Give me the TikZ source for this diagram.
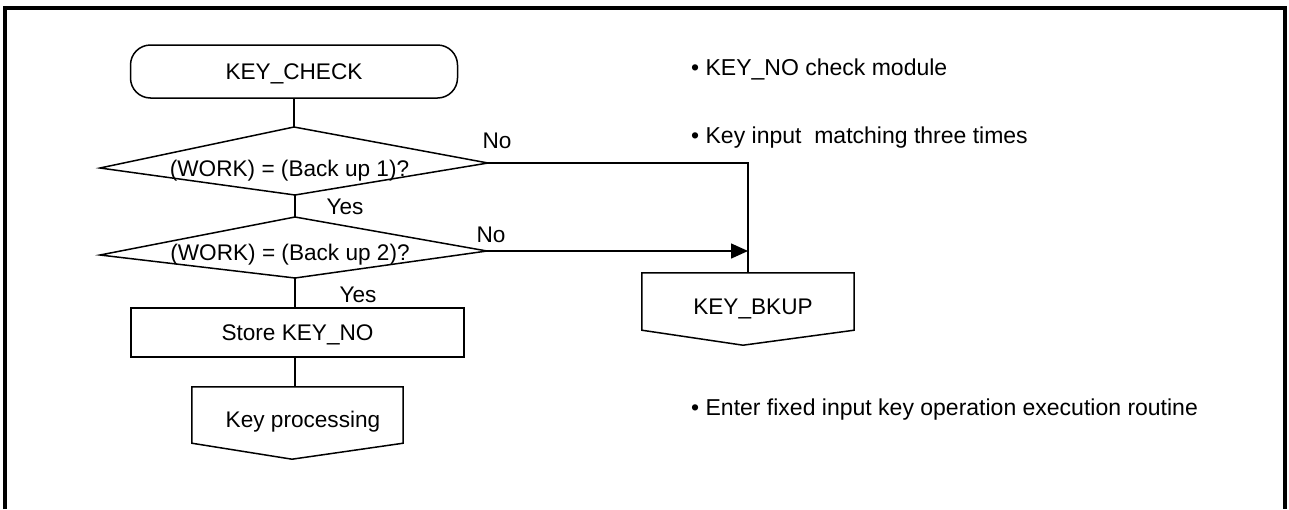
\documentclass[tikz,border=0pt]{standalone}
\usepackage{fontspec}
\setmainfont{Liberation Sans}
\usetikzlibrary{arrows.meta,calc}
\begin{document}
\begin{tikzpicture}[x=1pt,y=-1pt,
  every node/.style={font=\fontsize{22.6}{26}\selectfont, inner sep=0pt,
                     text height=16pt, text depth=0pt},
  ln/.style={line width=1.5pt, line join=miter},
  frame/.style={line width=3.2pt, line join=miter},
  term/.style={draw, ln, rounded corners=20pt, minimum width=327pt, minimum height=53pt},
  proc/.style={draw, ln, minimum width=333pt, minimum height=49pt},
  note/.style={anchor=base west, font=\fontsize{23}{27}\selectfont},
  tip/.style={-{Triangle[length=17pt,width=15pt]}}
]
\useasboundingbox (0,0) rectangle (1289,509);

% page frame, open at the bottom
\draw[frame] (5,509) -- (5,8) -- (1285,8) -- (1285,509);

% start terminal
\node[term] (st) at (294,71.5) {KEY\_CHECK};

% first decision
\coordinate (d1n) at (294,127);
\coordinate (d1e) at (488,163);
\coordinate (d1s) at (295,195);
\coordinate (d1w) at (100,168);
\draw[ln] (d1n) -- (d1e) -- (d1s) -- (d1w) -- cycle;
\node (q1) at (289.5,168) {(WORK) = (Back up 1)?};

% second decision
\coordinate (d2n) at (295,217);
\coordinate (d2e) at (487,251);
\coordinate (d2s) at (295,278);
\coordinate (d2w) at (100,255);
\draw[ln] (d2n) -- (d2e) -- (d2s) -- (d2w) -- cycle;
\node (q2) at (290,252) {(WORK) = (Back up 2)?};

% store step
\node[proc] (sk) at (297.5,332.5) {Store KEY\_NO};

% off-page connectors
\node[minimum width=211pt, minimum height=56pt,
      label={[xshift=5.5pt,yshift=-4.5pt]center:Key processing}] (kp) at (297.5,415) {};
\draw[ln] (kp.north west) -- (kp.north east) -- (kp.south east)
          -- ($(kp.south)+(-5.5,16)$) -- (kp.south west) -- cycle;

\node[minimum width=212pt, minimum height=57pt,
      label={[xshift=5pt,yshift=-5pt]center:KEY\_BKUP}] (bk) at (748,301.5) {};
\draw[ln] (bk.north west) -- (bk.north east) -- (bk.south east)
          -- ($(bk.south)+(-5,15)$) -- (bk.south west) -- cycle;

% flow lines
\draw[ln] (st.south) -- (d1n);
\draw[ln] (d1s) -- (d2n);
\draw[ln] (d2s) -- (d2s |- sk.north);
\draw[ln] (d2s |- sk.south) -- (d2s |- kp.north);
\draw[ln] (d1e) -| (bk.north);
\draw[ln, tip] (d2e) -- (d2e -| bk.north);

% branch labels
\node (y1) at (345,206) {Yes};
\node (y2) at (358,294.5) {Yes};
\node (n1) at (497,140) {No};
\node (n2) at (491,234) {No};

% notes
\node[note] (m1) at (691,75) {• KEY\_NO check module};
\node[note] (m2) at (691,143) {• Key input\ \ matching three times};
\node[note] (m3) at (691,415) {• Enter fixed input key operation execution routine};
\end{tikzpicture}
\end{document}
